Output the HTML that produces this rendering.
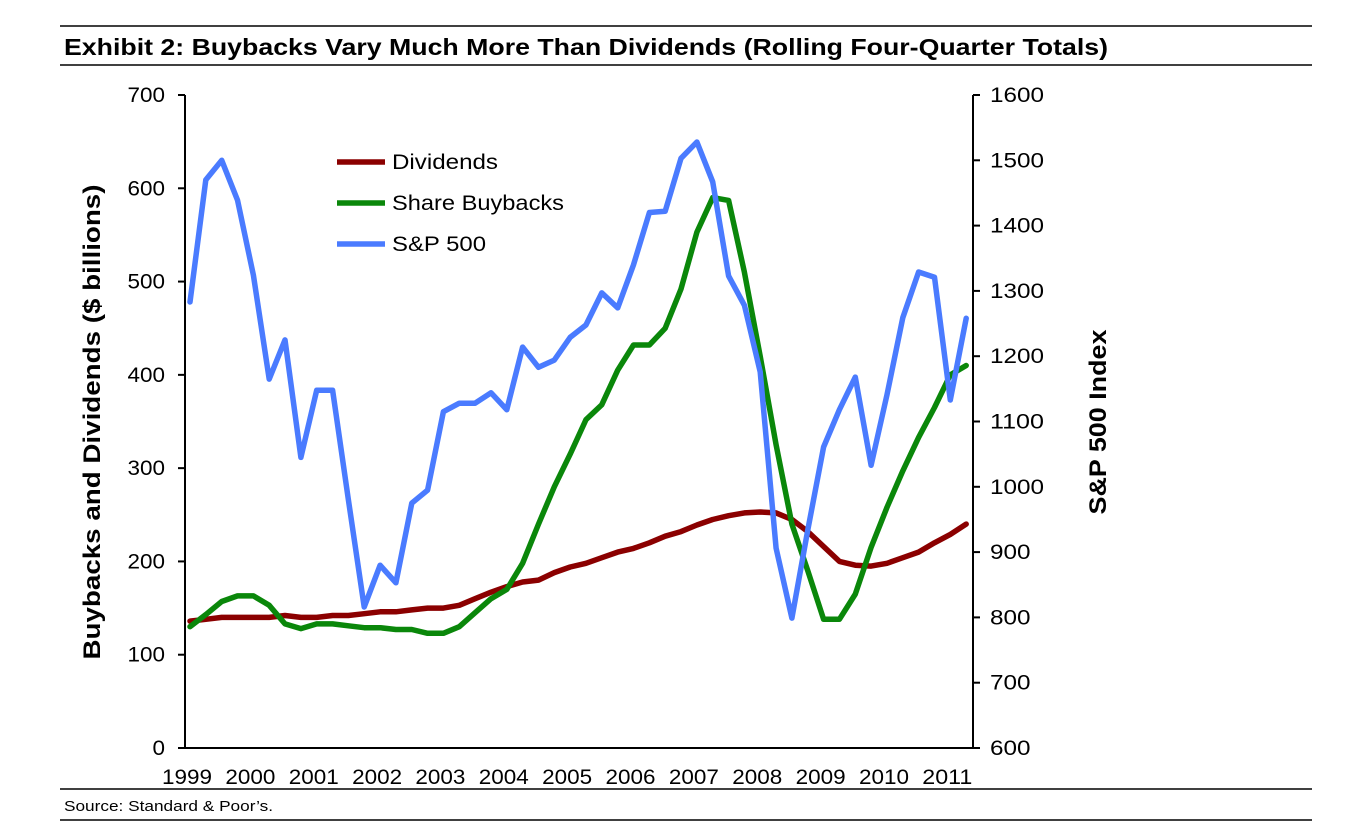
<!DOCTYPE html>
<html><head><meta charset="utf-8"><style>
body{margin:0;background:#fff;width:1346px;height:830px;overflow:hidden;font-family:"Liberation Sans",Arial,sans-serif}
</style></head><body>
<svg id="chart" width="1346" height="830" xmlns="http://www.w3.org/2000/svg" font-family="Liberation Sans, Arial, sans-serif">
<line x1="60" y1="26" x2="1312" y2="26" stroke="#000" stroke-width="1.5"/>
<text x="64" y="55" font-size="23" font-weight="bold" textLength="1044" lengthAdjust="spacingAndGlyphs">Exhibit 2: Buybacks Vary Much More Than Dividends (Rolling Four-Quarter Totals)</text>
<line x1="60" y1="65" x2="1312" y2="65" stroke="#000" stroke-width="1.5"/>
<line x1="60" y1="789" x2="1312" y2="789" stroke="#000" stroke-width="1.5"/>
<text x="64" y="811" font-size="15" textLength="209" lengthAdjust="spacingAndGlyphs">Source: Standard &amp; Poor’s.</text>
<line x1="60" y1="820" x2="1312" y2="820" stroke="#000" stroke-width="1.5"/>
<text transform="translate(100,422) rotate(-90)" text-anchor="middle" font-size="24" font-weight="bold" textLength="475" lengthAdjust="spacingAndGlyphs">Buybacks and Dividends ($ billions)</text>
<text transform="translate(1106,422) rotate(-90)" text-anchor="middle" font-size="24" font-weight="bold" textLength="185" lengthAdjust="spacingAndGlyphs">S&amp;P 500 Index</text>
<g id="axes"></g>
<g id="series"></g>
<g id="legend"></g>
</svg>
<script>
const years = ["1999","2000","2001","2002","2003","2004","2005","2006","2007","2008","2009","2010","2011"];
const leftTicks = [0,100,200,300,400,500,600,700];
const rightTicks = [600,700,800,900,1000,1100,1200,1300,1400,1500,1600];
const dividends = [136,138,140,140,140,140,142,140,140,142,142,144,146,146,148,150,150,153,160,167,173,178,180,188,194,198,204,210,214,220,227,232,239,245,249,252,253,252,245,232,216,200,196,195,198,204,210,220,229,240];
const buybacks = [130,143,157,163,163,153,133,128,133,133,131,129,129,127,127,123,123,130,145,160,170,198,240,280,315,352,368,405,432,432,450,492,553,590,587,510,420,325,240,190,138,138,165,215,258,297,333,365,400,410];
const sp500 = [1283,1470,1500,1439,1324,1165,1225,1045,1148,1148,980,816,880,853,975,995,1115,1128,1128,1144,1118,1214,1183,1194,1229,1248,1297,1274,1340,1420,1422,1503,1528,1467,1323,1278,1176,906,799,934,1061,1118,1168,1033,1141,1259,1329,1321,1133,1258];
const seriesNames = ["Dividends","Share Buybacks","S&P 500"];
const legendWidths = [106,172,94];

const NS="http://www.w3.org/2000/svg";
const xL=185,xR=973,yTop=95,yBot=748;
const yLeft=v=>yBot-(v/700)*(yBot-yTop);
const yRight=v=>yBot-((v-600)/1000)*(yBot-yTop);
const xQ=i=>190+i*15.84;
const xYear=i=>190+i*63.36;
function mk(tag,attrs,parent){const e=document.createElementNS(NS,tag);for(const k in attrs)e.setAttribute(k,attrs[k]);parent.appendChild(e);return e;}
const axes=document.getElementById('axes');
let l=mk('line',{x1:xL,y1:yTop,x2:xL,y2:yBot,stroke:'#000','stroke-width':2},axes);


l=mk('line',{x1:xR,y1:yTop,x2:xR,y2:yBot,stroke:'#000','stroke-width':2},axes);


l=mk('line',{x1:xL,y1:yBot,x2:xR,y2:yBot,stroke:'#000','stroke-width':2},axes);


leftTicks.forEach(v=>{const y=yLeft(v);
 const t=mk('line',{x1:xL-7,y1:y,x2:xL,y2:y,stroke:'#000','stroke-width':2},axes);
 
 
 const tx=mk('text',{x:165,y:y+7,'text-anchor':'end','font-size':21,textLength:String(v).length*12.5,lengthAdjust:'spacingAndGlyphs'},axes);tx.textContent=v;
 
 });
rightTicks.forEach(v=>{const y=yRight(v);
 const t=mk('line',{x1:xR,y1:y,x2:xR+7,y2:y,stroke:'#000','stroke-width':2},axes);
 
 
 const tx=mk('text',{x:990,y:y+7,'font-size':21,textLength:String(v).length*13.5,lengthAdjust:'spacingAndGlyphs'},axes);tx.textContent=v;
 
 });
years.forEach((yr,i)=>{const tx=mk('text',{x:xYear(i)-3,y:784,'text-anchor':'middle','font-size':21,textLength:50,lengthAdjust:'spacingAndGlyphs'},axes);tx.textContent=yr;
 
 });
const ser=document.getElementById('series');
function line(data,yf,color,name){const pts=data.map((v,i)=>xQ(i).toFixed(1)+','+yf(v).toFixed(1)).join(' ');
 const p=mk('polyline',{points:pts,fill:'none',stroke:color,'stroke-width':5.5,'stroke-linejoin':'round','stroke-linecap':'round'},ser);
 
 }
line(dividends,yLeft,'#8b0000','dividends-line');
line(buybacks,yLeft,'#0a870a','buybacks-line');
line(sp500,yRight,'#4a7bff','sp500-line');
const leg=document.getElementById('legend');
const cols=['#8b0000','#0a870a','#4a7bff'];
seriesNames.forEach((n,i)=>{const y=162+i*41;
 const s=mk('line',{x1:337,y1:y,x2:385,y2:y,stroke:cols[i],'stroke-width':5.5},leg);
 
 
 const t=mk('text',{x:392,y:y+7,'font-size':21,textLength:legendWidths[i],lengthAdjust:'spacingAndGlyphs'},leg);t.textContent=n;
 
 });
</script>
</body></html>
